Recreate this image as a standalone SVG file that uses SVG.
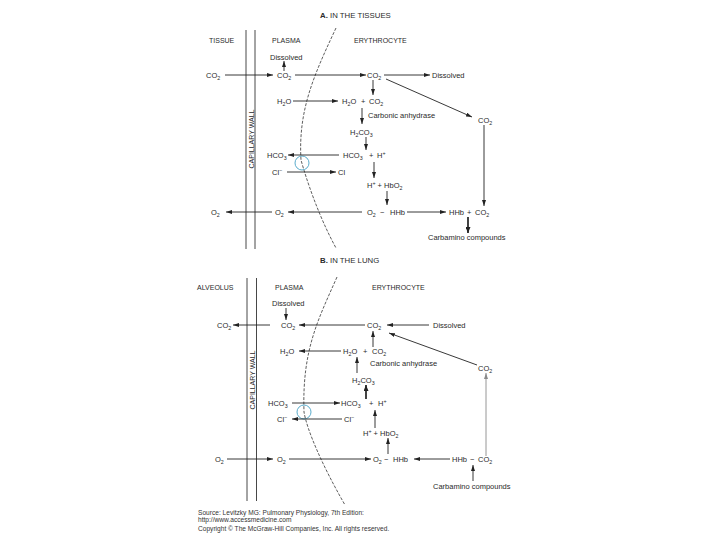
<svg xmlns="http://www.w3.org/2000/svg" width="720" height="540" viewBox="0 0 720 540">
<style>
text{font-family:"Liberation Sans",Arial,sans-serif;font-size:7.5px;fill:#2a2a2a}
.h{font-size:7px}
.t{font-size:7.8px}
.b{font-weight:bold}
.s{font-size:5.3px}
.f{font-size:6.6px;fill:#333}
.c{fill:none;stroke:#222;stroke-width:0.9}
.g{stroke:#8a8a8a}
.k{stroke-width:1.7}
.w{fill:none;stroke:#333;stroke-width:0.9}
.m{fill:none;stroke:#333;stroke-width:0.8;stroke-dasharray:3 1.5}
.ch{fill:none;stroke:#5aaccc;stroke-width:1}
</style>
<defs>
<marker id="ah" viewBox="0 0 6 4" refX="6" refY="2" markerWidth="6" markerHeight="4" markerUnits="userSpaceOnUse" orient="auto"><path d="M0,0L6,2L0,4z" fill="#222"/></marker>
<marker id="ahg" viewBox="0 0 6 4" refX="6" refY="2" markerWidth="6" markerHeight="4" markerUnits="userSpaceOnUse" orient="auto"><path d="M0,0L6,2L0,4z" fill="#8a8a8a"/></marker>
<marker id="ahk" viewBox="0 0 6 5" refX="6" refY="2.5" markerWidth="6" markerHeight="5" markerUnits="userSpaceOnUse" orient="auto"><path d="M0,0L6,2.5L0,5z" fill="#222"/></marker>
</defs>
<rect width="720" height="540" fill="#fff"/>

<!-- ===== Section A ===== -->
<g id="titleA"><text x="320" y="18" class="t"><tspan class="b">A.</tspan> IN THE TISSUES</text></g>
<g id="hdrA">
<text x="209" y="43" class="h">TISSUE</text>
<text x="272" y="43" class="h">PLASMA</text>
<text x="354" y="43" class="h">ERYTHROCYTE</text>
</g>
<g id="wallA">
<line x1="246" y1="30" x2="246" y2="249" class="w"/>
<line x1="255" y1="30" x2="255" y2="249" class="w"/>
<text transform="translate(253.5,139) rotate(-90)" text-anchor="middle" class="h">CAPILLARY WALL</text>
</g>
<g id="membraneA">
<path d="M336,28 C314,75 298,110 301,160 C306,178 318,215 336,248" class="m"/>
<circle cx="302" cy="163" r="7" class="ch"/>
</g>
<g id="a-dissolved-p"><text x="270" y="60">Dissolved</text></g>
<g id="a-co2-t"><text x="206" y="78">CO<tspan class="s" dy="1.8">2</tspan></text></g>
<g id="a-co2-p"><text x="277" y="78">CO<tspan class="s" dy="1.8">2</tspan></text></g>
<g id="a-co2-e"><text x="367" y="78">CO<tspan class="s" dy="1.8">2</tspan></text></g>
<g id="a-dissolved-e"><text x="432" y="78">Dissolved</text></g>
<g id="a-co2-r"><text x="478" y="123">CO<tspan class="s" dy="1.8">2</tspan></text></g>
<g id="a-h2o-p"><text x="277" y="104">H<tspan class="s" dy="1.8">2</tspan><tspan dy="-1.8">O</tspan></text></g>
<g id="a-h2o-co2">
<text x="342" y="104">H<tspan class="s" dy="1.8">2</tspan><tspan dy="-1.8">O</tspan></text>
<text x="361" y="104">+</text>
<text x="369" y="104">CO<tspan class="s" dy="1.8">2</tspan></text>
</g>
<g id="a-ca"><text x="368" y="118">Carbonic anhydrase</text></g>
<g id="a-h2co3"><text x="350" y="135">H<tspan class="s" dy="1.8">2</tspan><tspan dy="-1.8">CO</tspan><tspan class="s" dy="1.8">3</tspan></text></g>
<g id="a-hco3-p"><text x="267" y="158">HCO<tspan class="s" dy="1.8">3</tspan></text></g>
<g id="a-hco3-h">
<text x="343" y="158">HCO<tspan class="s" dy="1.8">3</tspan></text>
<text x="369" y="158">+</text>
<text x="377" y="158">H<tspan class="s" dy="-3">+</tspan></text>
</g>
<g id="a-cl-p"><text x="272" y="175">Cl<tspan class="s" dy="-3">−</tspan></text></g>
<g id="a-cl-e"><text x="338" y="175">Cl</text></g>
<g id="a-h-hbo2"><text x="367" y="188">H<tspan class="s" dy="-3">+</tspan><tspan dy="3"> + HbO</tspan><tspan class="s" dy="1.8">2</tspan></text></g>
<g id="a-o2-t"><text x="211" y="215">O<tspan class="s" dy="1.8">2</tspan></text></g>
<g id="a-o2-p"><text x="275" y="215">O<tspan class="s" dy="1.8">2</tspan></text></g>
<g id="a-o2-hhb">
<text x="367" y="215">O<tspan class="s" dy="1.8">2</tspan></text>
<text x="380" y="215">−</text>
<text x="390" y="215">HHb</text>
</g>
<g id="a-hhb-co2">
<text x="449" y="215">HHb</text>
<text x="467" y="215">+</text>
<text x="475" y="215">CO<tspan class="s" dy="1.8">2</tspan></text>
</g>
<g id="a-carb"><text x="428" y="240">Carbamino compounds</text></g>

<!-- ===== Section B ===== -->
<g id="titleB"><text x="320" y="263" class="t"><tspan class="b">B.</tspan> IN THE LUNG</text></g>
<g id="hdrB">
<text x="197" y="290" class="h">ALVEOLUS</text>
<text x="275" y="290" class="h">PLASMA</text>
<text x="372" y="290" class="h">ERYTHROCYTE</text>
</g>
<g id="wallB">
<line x1="247" y1="278" x2="247" y2="501" class="w"/>
<line x1="256.5" y1="278" x2="256.5" y2="501" class="w"/>
<text transform="translate(254.5,380) rotate(-90)" text-anchor="middle" class="h">CAPILLARY WALL</text>
</g>
<g id="membraneB">
<path d="M337,277 C318,320 302,350 304,412 C307,430 322,465 345,505" class="m"/>
<circle cx="304" cy="412" r="7" class="ch"/>
</g>
<g id="b-dissolved-p"><text x="272" y="306">Dissolved</text></g>
<g id="b-co2-a"><text x="217" y="328">CO<tspan class="s" dy="1.8">2</tspan></text></g>
<g id="b-co2-p"><text x="281" y="328">CO<tspan class="s" dy="1.8">2</tspan></text></g>
<g id="b-co2-e"><text x="367" y="328">CO<tspan class="s" dy="1.8">2</tspan></text></g>
<g id="b-dissolved-e"><text x="433" y="328">Dissolved</text></g>
<g id="b-co2-r"><text x="478" y="371">CO<tspan class="s" dy="1.8">2</tspan></text></g>
<g id="b-h2o-p"><text x="280" y="354">H<tspan class="s" dy="1.8">2</tspan><tspan dy="-1.8">O</tspan></text></g>
<g id="b-h2o-co2">
<text x="343" y="354">H<tspan class="s" dy="1.8">2</tspan><tspan dy="-1.8">O</tspan></text>
<text x="363" y="354">+</text>
<text x="372" y="354">CO<tspan class="s" dy="1.8">2</tspan></text>
</g>
<g id="b-ca"><text x="370" y="366">Carbonic anhydrase</text></g>
<g id="b-h2co3"><text x="352" y="383">H<tspan class="s" dy="1.8">2</tspan><tspan dy="-1.8">CO</tspan><tspan class="s" dy="1.8">3</tspan></text></g>
<g id="b-hco3-p"><text x="268" y="406">HCO<tspan class="s" dy="1.8">3</tspan></text></g>
<g id="b-hco3-h">
<text x="341" y="406">HCO<tspan class="s" dy="1.8">3</tspan></text>
<text x="369" y="406">+</text>
<text x="378" y="406">H<tspan class="s" dy="-3">+</tspan></text>
</g>
<g id="b-cl-p"><text x="277" y="422">Cl<tspan class="s" dy="-3">−</tspan></text></g>
<g id="b-cl-e"><text x="344" y="422">Cl<tspan class="s" dy="-3">−</tspan></text></g>
<g id="b-h-hbo2"><text x="363" y="436">H<tspan class="s" dy="-3">+</tspan><tspan dy="3"> + HbO</tspan><tspan class="s" dy="1.8">2</tspan></text></g>
<g id="b-o2-a"><text x="215" y="462">O<tspan class="s" dy="1.8">2</tspan></text></g>
<g id="b-o2-p"><text x="277" y="462">O<tspan class="s" dy="1.8">2</tspan></text></g>
<g id="b-o2-hhb">
<text x="373" y="462">O<tspan class="s" dy="1.8">2</tspan></text>
<text x="384" y="462">−</text>
<text x="393" y="462">HHb</text>
</g>
<g id="b-hhb-co2">
<text x="452" y="462">HHb</text>
<text x="470" y="462">−</text>
<text x="478" y="462">CO<tspan class="s" dy="1.8">2</tspan></text>
</g>
<g id="b-carb"><text x="433" y="489">Carbamino compounds</text></g>

<!-- ===== Connectors ===== -->
<g id="connectors">
<!-- A -->
<line x1="225" y1="75" x2="273" y2="75" class="c" marker-end="url(#ah)"/>
<line x1="295" y1="75" x2="366" y2="75" class="c" marker-end="url(#ah)"/>
<line x1="384" y1="75" x2="430" y2="75" class="c" marker-end="url(#ah)"/>
<line x1="284" y1="71" x2="284" y2="61" class="c" marker-end="url(#ah)"/>
<line x1="373" y1="80" x2="373" y2="95" class="c" marker-end="url(#ah)"/>
<line x1="386" y1="79" x2="472" y2="117" class="c" marker-end="url(#ah)"/>
<line x1="484" y1="125" x2="484" y2="206" class="c" marker-end="url(#ah)"/>
<line x1="293" y1="101" x2="338" y2="101" class="c" marker-end="url(#ah)"/>
<line x1="362" y1="108" x2="362" y2="124" class="c" marker-end="url(#ah)"/>
<line x1="366" y1="137" x2="366" y2="150" class="c" marker-end="url(#ah)"/>
<line x1="339" y1="155" x2="288" y2="155" class="c" marker-end="url(#ah)"/>
<line x1="287" y1="172" x2="336" y2="172" class="c" marker-end="url(#ah)"/>
<line x1="374" y1="162" x2="374" y2="178" class="c" marker-end="url(#ah)"/>
<line x1="387" y1="191" x2="387" y2="205" class="c" marker-end="url(#ah)"/>
<line x1="272" y1="212" x2="226" y2="212" class="c" marker-end="url(#ah)"/>
<line x1="362" y1="212" x2="288" y2="212" class="c" marker-end="url(#ah)"/>
<line x1="407" y1="212" x2="446" y2="212" class="c" marker-end="url(#ah)"/>
<line x1="468" y1="217" x2="468" y2="233" class="c k" marker-end="url(#ahk)"/>
<!-- B -->
<line x1="286" y1="308" x2="286" y2="320" class="c" marker-end="url(#ah)"/>
<line x1="270" y1="325" x2="233" y2="325" class="c" marker-end="url(#ah)"/>
<line x1="365" y1="325" x2="299" y2="325" class="c" marker-end="url(#ah)"/>
<line x1="429" y1="325" x2="387" y2="325" class="c" marker-end="url(#ah)"/>
<line x1="477" y1="365" x2="389" y2="333" class="c" marker-end="url(#ah)"/>
<line x1="486" y1="456" x2="486" y2="373" class="c g" marker-end="url(#ahg)"/>
<line x1="373" y1="347" x2="373" y2="331" class="c" marker-end="url(#ah)"/>
<line x1="341" y1="351" x2="299" y2="351" class="c" marker-end="url(#ah)"/>
<line x1="357" y1="373" x2="357" y2="357" class="c" marker-end="url(#ah)"/>
<line x1="366" y1="399" x2="366" y2="385" class="c k" marker-end="url(#ahk)"/>
<line x1="292" y1="403" x2="340" y2="403" class="c" marker-end="url(#ah)"/>
<line x1="342" y1="419" x2="292" y2="419" class="c" marker-end="url(#ah)"/>
<line x1="375" y1="428" x2="375" y2="410" class="c" marker-end="url(#ah)"/>
<line x1="388" y1="454" x2="388" y2="438" class="c" marker-end="url(#ah)"/>
<line x1="227" y1="459" x2="273" y2="459" class="c" marker-end="url(#ah)"/>
<line x1="289" y1="459" x2="371" y2="459" class="c" marker-end="url(#ah)"/>
<line x1="450" y1="459" x2="414" y2="459" class="c" marker-end="url(#ah)"/>
<line x1="473" y1="481" x2="473" y2="465" class="c" marker-end="url(#ah)"/>
</g>

<g id="footer">
<text x="198" y="515" class="f">Source: Levitzky MG: Pulmonary Physiology, 7th Edition:</text>
<text x="198" y="522" class="f">http://www.accessmedicine.com</text>
<text x="198" y="531" class="f">Copyright © The McGraw-Hill Companies, Inc. All rights reserved.</text>
</g>
</svg>
